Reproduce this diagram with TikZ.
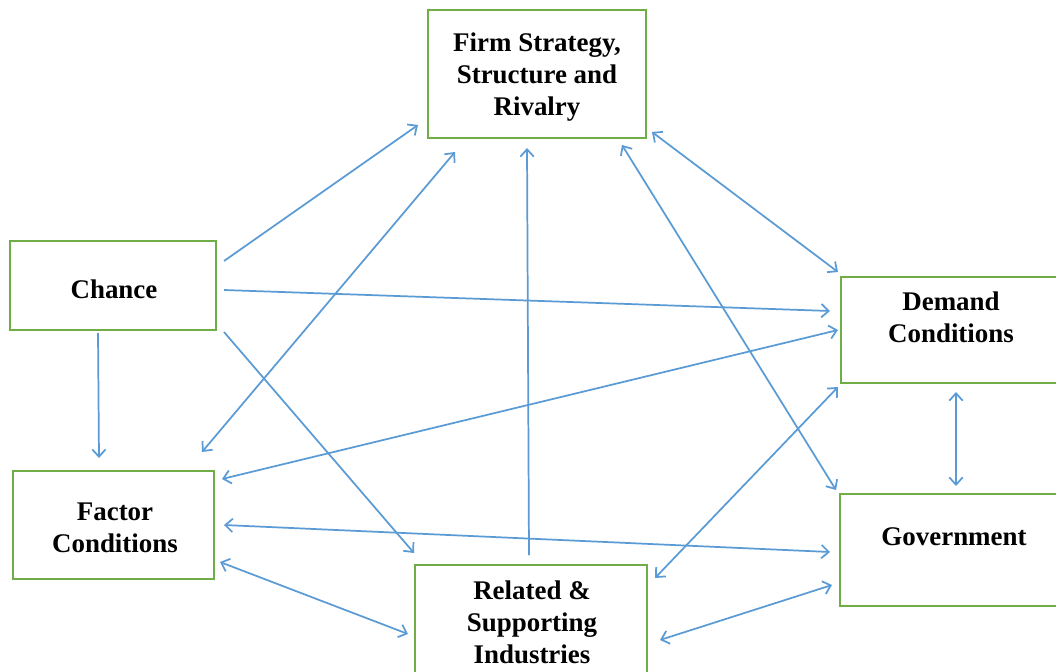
\documentclass[tikz,border=0pt]{standalone}
\usepackage{fontspec}
\setmainfont{Liberation Serif}
\usetikzlibrary{arrows.meta}
\definecolor{boxgreen}{RGB}{112,173,71}
\definecolor{arrowblue}{RGB}{91,155,213}
\begin{document}
\begin{tikzpicture}[x=0.75pt,y=-0.75pt,
  box/.style={draw=boxgreen, line width=1.8pt, rectangle, inner sep=0pt},
  lbl/.style={font=\bfseries\fontsize{20.2}{24}\selectfont, align=center, inner sep=0pt},
  conn/.style={draw=arrowblue, line width=1.3pt},
  tip/.tip={Straight Barb[length=5.5pt,width=10pt,line width=1.3pt]},
  one/.style={conn, -tip},
  two/.style={conn, tip-tip}]
\useasboundingbox (0,0) rectangle (1056,671);
\clip (0,0) rectangle (1056,671);
\fill[white] (0,0) rectangle (1056,671);
% boxes
\node[box, minimum width=163.5pt, minimum height=96pt] (firm) at (537,74) {};
\node[box, minimum width=154.5pt, minimum height=66.75pt] (chance) at (113,285.5) {};
\node[box, minimum width=150.75pt, minimum height=81pt] (factor) at (113.5,525) {};
\node[box, minimum width=174pt, minimum height=90pt] (related) at (531,625) {};
\node[box, minimum width=201.75pt, minimum height=79.5pt] (demand) at (975.5,330) {};
\node[box, minimum width=202.5pt, minimum height=84pt] (gov) at (975,550) {};
% labels
\node[lbl] (firmt) at (537,77) {Firm Strategy,\\Structure and\\Rivalry};
\node[lbl] (chancet) at (114,289) {Chance};
\node[lbl] (factort) at (115,528) {Factor\\Conditions};
\node[lbl] (relt) at (532,622) {Related \&\\Supporting\\Industries};
\node[lbl] (demt) at (951,317) {Demand\\Conditions};
\node[lbl] (govt) at (954,537) {Government};
% connector ends
\coordinate (c1a) at (224,261); \coordinate (c1b) at (418,125);
\coordinate (c2a) at (224,290); \coordinate (c2b) at (830,311);
\coordinate (c3a) at (224,332); \coordinate (c3b) at (414,553);
\coordinate (c4a) at (98,333);  \coordinate (c4b) at (99,458);
\coordinate (c5a) at (202,452); \coordinate (c5b) at (455,152);
\coordinate (c6a) at (529,555); \coordinate (c6b) at (527,148);
\coordinate (c7a) at (652,132); \coordinate (c7b) at (838,272);
\coordinate (c8a) at (622,145); \coordinate (c8b) at (836,490);
\coordinate (c9a) at (222,479); \coordinate (c9b) at (838,330);
\coordinate (c10a) at (224,525); \coordinate (c10b) at (830,552);
\coordinate (c11a) at (220,562); \coordinate (c11b) at (408,634);
\coordinate (c12a) at (655,578); \coordinate (c12b) at (838,387);
\coordinate (c13a) at (660,640); \coordinate (c13b) at (832,585);
\coordinate (c14a) at (956,392); \coordinate (c14b) at (956,486);
% connectors
\draw[one] (c1a) -- (c1b);
\draw[one] (c2a) -- (c2b);
\draw[one] (c3a) -- (c3b);
\draw[one] (c4a) -- (c4b);
\draw[two] (c5a) -- (c5b);
\draw[one] (c6a) -- (c6b);
\draw[two] (c7a) -- (c7b);
\draw[two] (c8a) -- (c8b);
\draw[two] (c9a) -- (c9b);
\draw[two] (c10a) -- (c10b);
\draw[two] (c11a) -- (c11b);
\draw[two] (c12a) -- (c12b);
\draw[two] (c13a) -- (c13b);
\draw[two] (c14a) -- (c14b);
\end{tikzpicture}
\end{document}
